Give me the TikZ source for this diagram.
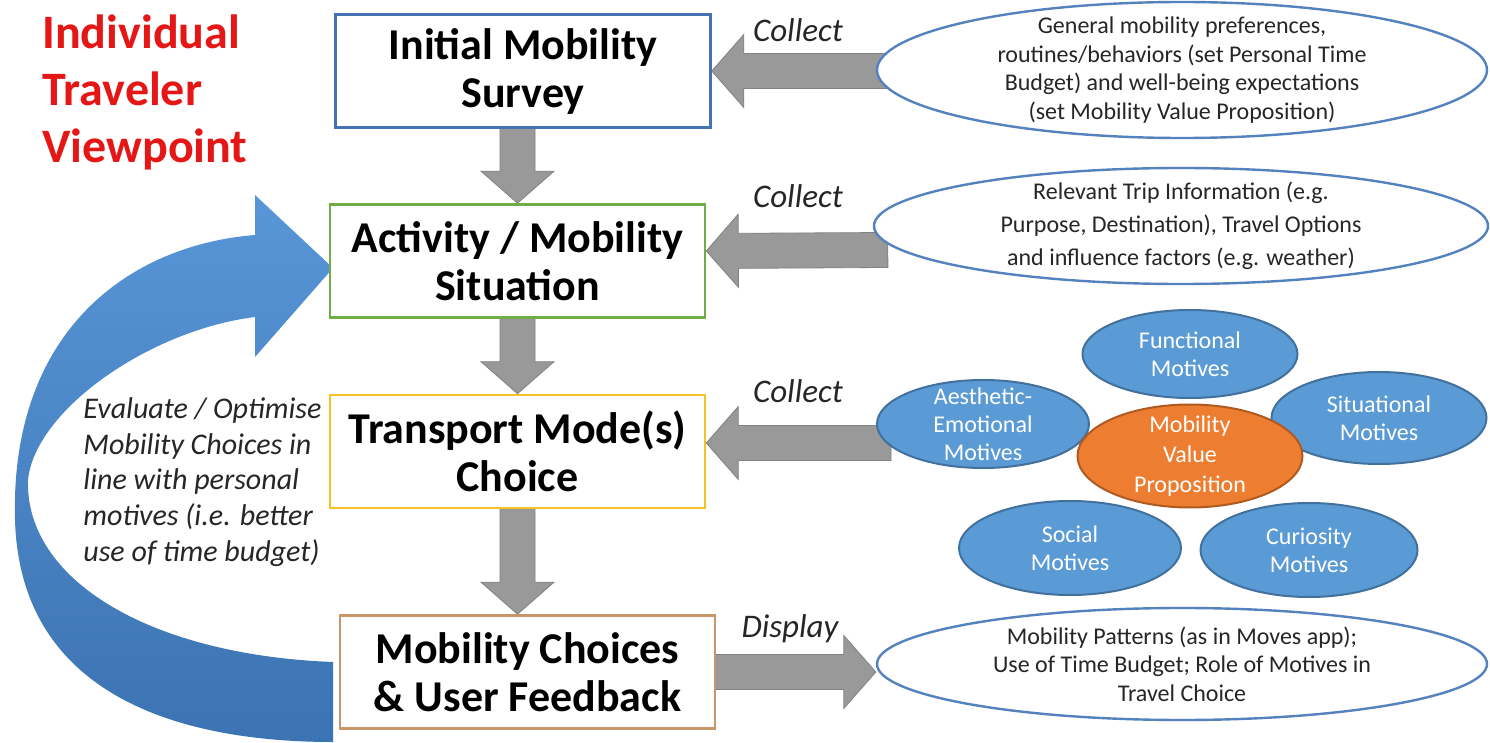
\documentclass[tikz,border=0pt]{standalone}
\usepackage{fontspec}
\setmainfont{Carlito}
\usetikzlibrary{shapes.geometric,calc}
\definecolor{titlered}{RGB}{228,22,22}
\definecolor{surveyblue}{RGB}{68,114,180}
\definecolor{situgreen}{RGB}{112,173,71}
\definecolor{modeyellow}{RGB}{245,195,40}
\definecolor{feedbacktan}{RGB}{200,150,105}
\definecolor{flowgray}{RGB}{153,153,153}
\definecolor{infoblue}{RGB}{84,130,190}
\definecolor{motivefill}{RGB}{91,155,213}
\definecolor{motiveline}{RGB}{65,113,156}
\definecolor{mvpfill}{RGB}{237,125,49}
\definecolor{mvpline}{RGB}{174,90,33}
\definecolor{loopblue}{RGB}{88,150,215}
\definecolor{loopdark}{RGB}{60,115,178}
\pgfdeclarelayer{back}
\pgfsetlayers{back,main}
\tikzset{
  titletext/.style={font=\fontsize{24}{28.5}\selectfont\bfseries, text=titlered, align=left, inner sep=0pt},
  stepbox/.style={draw, line width=1.3pt, fill=white, minimum width=187.5pt, minimum height=56.5pt, inner sep=0pt, align=center, font=\fontsize{22}{24}\selectfont\bfseries},
  infoell/.style={ellipse, draw=infoblue, line width=1.2pt, fill=white, inner sep=-20pt, align=center, text=black!85, font=\fontsize{12}{14.3}\selectfont},
  motive/.style={ellipse, draw=motiveline, line width=1pt, fill=motivefill, inner sep=-20pt, align=center, text=white, font=\fontsize{12}{14}\selectfont},
  actlabel/.style={font=\fontsize{16.5}{18}\selectfont\itshape, text=black!85, inner sep=0pt},
  evaltext/.style={font=\fontsize{15}{17.9}\selectfont\itshape, text=black!85, align=left, inner sep=0pt},
  blockarrow/.style={fill=flowgray, draw=flowgray!85!black, line width=0.4pt,
    to path={($(\tikztotarget)!16pt!(\tikztostart)$) coordinate (headbase)
      ($(\tikztostart)!8.75pt!90:(\tikztotarget)$)
      -- ($(headbase)!8.75pt!-90:(\tikztostart)$)
      -- ($(headbase)!18.25pt!-90:(\tikztostart)$)
      -- (\tikztotarget)
      -- ($(headbase)!18.25pt!90:(\tikztostart)$)
      -- ($(headbase)!8.75pt!90:(\tikztostart)$)
      -- ($(\tikztostart)!8.75pt!-90:(\tikztotarget)$) -- cycle}}
}
\begin{document}
\begin{tikzpicture}[x=0.5pt,y=-0.5pt]
\begin{pgfonlayer}{back}
  \fill[white] (0,0) rectangle (1490,743);
\end{pgfonlayer}
\useasboundingbox (0,0) rectangle (1490,743);

\node[titletext, anchor=north west] (title) at (42,14) {Individual\\Traveler\\Viewpoint};

\node[stepbox, draw=surveyblue] (survey) at (523,71) {Initial Mobility\\Survey};
\node[stepbox, draw=situgreen] (situation) at (517.5,261) {Activity / Mobility\\Situation};
\node[stepbox, draw=modeyellow] (mode) at (517.5,451.5) {Transport Mode(s)\\Choice};
\node[stepbox, draw=feedbacktan] (feedback) at (527.5,672) {Mobility Choices\\\& User Feedback};

\node[infoell, minimum width=305pt, minimum height=68pt] (prefs) at (1182,70) {General mobility preferences,\\routines/behaviors (set Personal Time\\Budget) and well-being expectations\\(set Mobility Value Proposition)};
\node[infoell, minimum width=307pt, minimum height=58pt, font=\fontsize{12}{16.5}\selectfont] (tripinfo) at (1181,226) {Relevant Trip Information (e.g.\\Purpose, Destination), Travel Options\\and influence factors (e.g. weather)};
\node[infoell, minimum width=305pt, minimum height=56pt] (patterns) at (1182,664) {Mobility Patterns (as in Moves app);\\Use of Time Budget; Role of Motives in\\Travel Choice};

\node[motive, minimum width=107.5pt, minimum height=44pt] (func) at (1190,354) {Functional\\Motives};
\node[motive, minimum width=106pt, minimum height=44pt] (aesth) at (983,424) {Aesthetic-\\Emotional\\Motives};
\node[motive, minimum width=107.5pt, minimum height=46pt] (situ) at (1379,418) {Situational\\Motives};
\node[motive, minimum width=111pt, minimum height=47pt] (social) at (1070,548) {Social\\Motives};
\node[motive, minimum width=108.5pt, minimum height=47pt] (curio) at (1309,550) {Curiosity\\Motives};
\node[motive, draw=mvpline, fill=mvpfill, minimum width=112.5pt, minimum height=51.5pt, font=\fontsize{12}{15}\selectfont] (mvp) at (1190,456) {Mobility\\Value\\Proposition};

\node[actlabel, anchor=base] (collect1) at (798,42) {Collect};
\node[actlabel, anchor=base] (collect2) at (798,208) {Collect};
\node[actlabel, anchor=base] (collect3) at (798,403) {Collect};
\node[actlabel, anchor=base] (display) at (790,637) {Display};

\node[evaltext, anchor=north west] (evaluate) at (83,397) {Evaluate / Optimise\\Mobility Choices in\\line with personal\\motives (i.e. better\\use of time budget)};

\coordinate (c1) at ($(prefs.west |- survey.east)+(15,0)$);
\coordinate (c2) at ($(tripinfo.west)+(15,24)$);
\coordinate (c2tip) at ($(situation.east)+(0,-10)$);
\coordinate (c3) at ($(aesth.west)+(15,19)$);
\coordinate (c3tip) at ($(mode.east)+(0,-8.5)$);

\begin{pgfonlayer}{back}
  \path[top color=loopblue, bottom color=loopdark] (333,742) .. controls (170,742) and (20,690) .. (15,520)
    .. controls (10,330) and (130,245) .. (255,235) -- (255,195) -- (333,268) -- (255,357) -- (255,317)
    .. controls (150,330) and (35,410) .. (28,480)
    .. controls (25,580) and (150,655) .. (333,662) -- cycle;
  \path[blockarrow] (situation.north |- survey.south) to (situation.north);
  \path[blockarrow] (situation.south) to (mode.north);
  \path[blockarrow] (mode.south) to (mode.south |- feedback.north);
  \path[blockarrow] (c1) to (survey.east);
  \path[blockarrow] (c2) to (c2tip);
  \path[blockarrow] (c3) to (c3tip);
  \path[blockarrow] (feedback.east) to (patterns.west |- feedback.east);
\end{pgfonlayer}
\end{tikzpicture}
\end{document}
